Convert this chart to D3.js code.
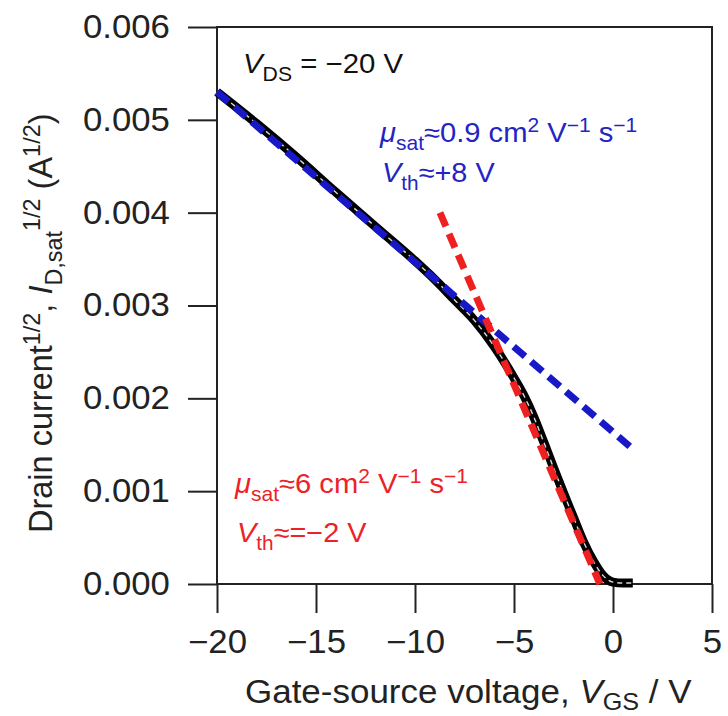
<!DOCTYPE html>
<html><head><meta charset="utf-8">
<script src="https://cdn.jsdelivr.net/npm/d3@7"></script>
<style>body{margin:0;background:#fff}text{font-family:"Liberation Sans",Arial,sans-serif}</style>
</head><body><svg id="c" width="728" height="716"></svg>
<script>
const xTicks = [-20, -15, -10, -5, 0, 5];
const yTicks = [0, 0.001, 0.002, 0.003, 0.004, 0.005, 0.006];
const curveV = [-20, -18, -16, -14, -12, -10, -9, -8, -7, -6, -5, -4.5, -4, -3.5, -3, -2.5, -2, -1.5, -1, -0.5, 0, 0.5, 1];
const curveI = [0.00530, 0.00496, 0.00460, 0.00422, 0.00385, 0.00348, 0.00328, 0.00306, 0.00284, 0.00256, 0.00222, 0.00203, 0.00180, 0.00153, 0.00125, 0.00098, 0.00072, 0.00046, 0.00025, 0.00009, 0.00002, 0.00001, 0.00001];
const blueFitV = [-20, 0.86];
const blueFitI = [0.00530, 0.00148];
const redFitV = [-8.74, -0.66];
const redFitI = [0.00400, 0.0];

const SX = 1.07; // horizontal stretch of the reference lettering
const svg = d3.select("#c");
const L = 217, R = 712, T = 27, B = 584;
const x = d3.scaleLinear().domain([-20, 5]).range([L, R]);
const y = d3.scaleLinear().domain([0, 0.006]).range([B, T]);

// axes
const gx = svg.append("g").attr("transform", `translate(0,${B})`)
  .call(d3.axisBottom(x).tickValues(xTicks).tickSize(29).tickPadding(17).tickFormat(d => d < 0 ? "\u2212" + Math.abs(d) : d));
const gy = svg.append("g").attr("transform", `translate(${L},0)`)
  .call(d3.axisLeft(y).tickValues(yTicks).tickSize(29).tickPadding(15).tickFormat(d3.format(".3f")));
[gx, gy].forEach(g => {
  g.select(".domain").remove();
  g.selectAll("line").attr("stroke", "#222").attr("stroke-width", 2);
  g.selectAll("text").attr("font-size", 32.5).attr("fill", "#222")
    .style("font-family", '"Liberation Sans",Arial,sans-serif')
    .attr("transform", `scale(${SX},1)`);
});
svg.append("rect").attr("x", L).attr("y", T).attr("width", R - L).attr("height", B - T)
  .attr("fill", "none").attr("stroke", "#222").attr("stroke-width", 2);

const plot = svg.append("g");
const line = d3.line().x(d => x(d[0])).y(d => y(d[1]));
const lineC = d3.line().curve(d3.curveMonotoneX).x(d => x(d[0])).y(d => y(d[1]));
const cdata = curveV.map((v, i) => [v, curveI[i]]);

plot.append("path").attr("d", lineC(cdata)).attr("fill", "none").attr("stroke", "#000").attr("stroke-width", 9).attr("stroke-linejoin", "round");
plot.append("path").attr("d", lineC(cdata)).attr("fill", "none").attr("stroke", "#d8d8d8").attr("stroke-width", 1.4).attr("stroke-dasharray", "5,4");

plot.append("path").attr("d", line(blueFitV.map((v, i) => [v, blueFitI[i]])))
  .attr("fill", "none").attr("stroke", "#1818c8").attr("stroke-width", 7).attr("stroke-dasharray", "15,8");
plot.append("path").attr("d", line(redFitV.map((v, i) => [v, redFitI[i]])))
  .attr("fill", "none").attr("stroke", "#ee2020").attr("stroke-width", 7).attr("stroke-dasharray", "15,8");

// annotation helper
function rich(parent, xx, yy, parts, size, color, sx, subShift) {
  const g = parent.append("g").attr("transform", `translate(${xx},${yy}) scale(${sx},1)`);
  const t = g.append("text").attr("x", 0).attr("y", 0).attr("font-size", size).attr("fill", color);
  let shift = 0;
  parts.forEach(p => {
    const [s, kind] = p;
    let target = 0, fs = size;
    if (kind === "sub") { target = size * (subShift || 0.3); fs = size * 0.72; }
    if (kind === "sup") { target = -size * 0.38; fs = size * 0.72; }
    const ts = t.append("tspan").text(s).attr("font-size", fs).attr("dy", target - shift);
    if (kind === "i") ts.attr("font-style", "italic");
    shift = target;
  });
  return t;
}

rich(svg, 243, 73, [["V", "i"], ["DS", "sub"], [" = \u221220 V", ""]], 28, "#111", 1.05);
rich(svg, 380, 142, [["\u03bc", "i"], ["sat", "sub"], ["\u22480.9 cm", ""], ["2", "sup"], [" V", ""], ["\u22121", "sup"], [" s", ""], ["\u22121", "sup"]], 27, "#2424c4", 1.08);
rich(svg, 382, 182, [["V", "i"], ["th", "sub"], ["\u2248+8 V", ""]], 27, "#2424c4", 1.07);
rich(svg, 235, 493, [["\u03bc", "i"], ["sat", "sub"], ["\u22486 cm", ""], ["2", "sup"], [" V", ""], ["\u22121", "sup"], [" s", ""], ["\u22121", "sup"]], 27, "#ec2228", 1.08);
rich(svg, 237, 542, [["V", "i"], ["th", "sub"], ["\u2248=\u22122 V", ""]], 27, "#ec2228", 1.07);

// axis titles
rich(svg, 245, 703, [["Gate-source voltage, ", ""], ["V", "i"], ["GS", "sub"], [" / V", ""]], 33, "#222", 1.06, 0.22);
const yt = svg.append("g").attr("transform", "translate(52,533) rotate(-90)");
rich(yt, 0, 0, [["Drain current", ""], ["1/2", "sup"], [", ", ""], ["I", "i"], ["D,sat", "sub"], ["1/2", "sup"], [" (A", ""], ["1/2", "sup"], [")", ""]], 32.5, "#222", 1);
</script></body></html>
